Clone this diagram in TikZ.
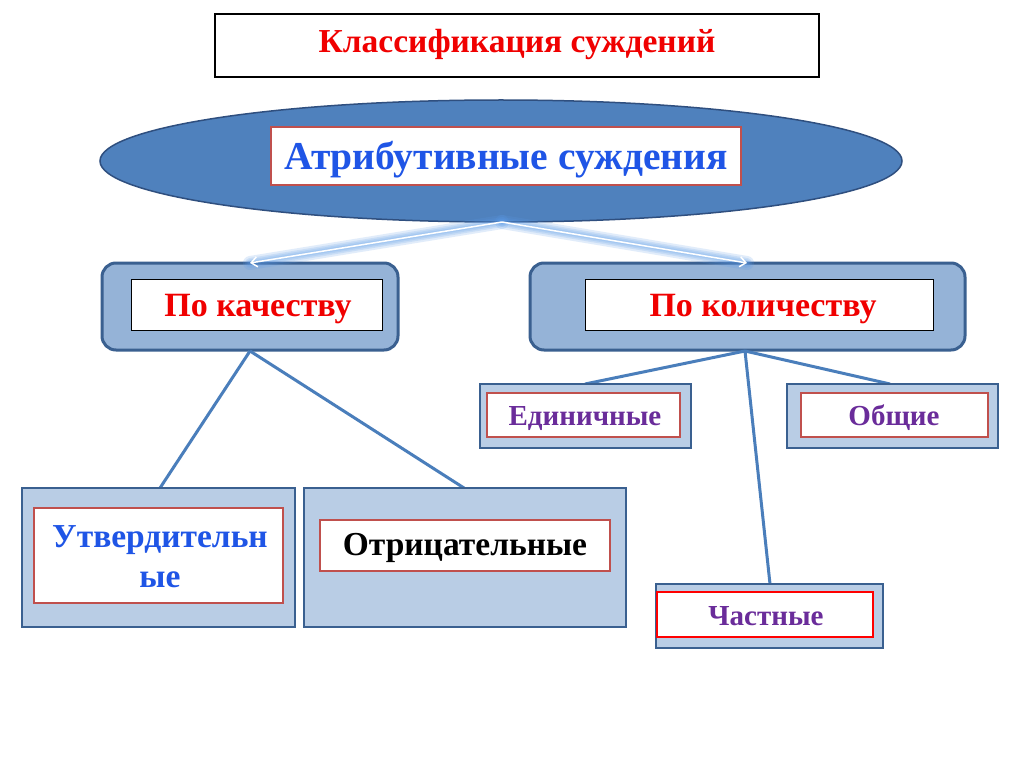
\documentclass[tikz,border=0pt]{standalone}
\usepackage{fontspec}
\setmainfont{Liberation Serif}
\usetikzlibrary{arrows.meta,shapes.geometric}
\definecolor{ellfill}{HTML}{4F81BD}
\definecolor{ellline}{HTML}{2F4F7F}
\definecolor{darkbord}{HTML}{3A6090}
\definecolor{midfill}{HTML}{95B3D7}
\definecolor{lightfill}{HTML}{B9CDE5}
\definecolor{conn}{HTML}{4A7EBB}
\definecolor{redtxt}{HTML}{F00000}
\definecolor{bluetxt}{HTML}{1F55E6}
\definecolor{purptxt}{HTML}{6A2C9A}
\definecolor{redbord}{HTML}{C0504D}
\definecolor{glowcol}{HTML}{5B9BE8}
\tikzset{
  outerround/.style={draw=darkbord, line width=3pt, fill=midfill, rounded corners=14pt},
  outerrect/.style={draw=darkbord, line width=2.5pt, fill=lightfill},
  innerblack/.style={draw=black, line width=1pt, fill=white},
  innerred/.style={draw=redbord, line width=1.2pt, fill=white},
  conline/.style={draw=conn, line width=3pt},
  txt/.style={inner sep=0pt, anchor=base},
  glow/.style={line width=#1, draw=glowcol, opacity=0.18, line cap=round},
}
\begin{document}
\begin{tikzpicture}[x=1pt,y=-1pt]
\useasboundingbox (0,0) rectangle (1024,767);
\fill[white] (0,0) rectangle (1024,767);
% title
\draw[line width=1.5pt, fill=white] (215,14) rectangle (819,77);
\node[txt, text=redtxt, font=\bfseries\fontsize{33.5}{38}\selectfont] (title) at (517,53) {Классификация суждений};
% ellipse
\node[ellipse, draw=ellline, line width=1.5pt, fill=ellfill, minimum width=802pt, minimum height=122pt, inner sep=0pt] (ell) at (501,161) {};
\draw[innerred] (271,127) rectangle (741,185);
\node[txt, text=bluetxt, font=\bfseries\fontsize{39.5}{44}\selectfont] (attr) at (506,170) {Атрибутивные суждения};
% upper boxes
\draw[outerround] (102,263) rectangle (398,350);
\draw[innerblack] (131,279) rectangle (382,330);
\node[txt, text=redtxt, font=\bfseries\fontsize{34}{38}\selectfont] (qual) at (258,316) {По качеству};
\draw[outerround] (530,263) rectangle (965,350);
\draw[innerblack] (585,279) rectangle (933,330);
\node[txt, text=redtxt, font=\bfseries\fontsize{34}{38}\selectfont] (quant) at (763,316) {По количеству};
\coordinate (ellb) at (502,222);
\coordinate (qualt) at (250,263);
\coordinate (quantt) at (747,263);
\coordinate (qualb) at (250,351);
\coordinate (quantb) at (745,351);
% glow arrows
\foreach \w in {14pt,10pt,7pt,4pt}{
  \draw[glow=\w] (ellb) -- (qualt);
  \draw[glow=\w] (ellb) -- (quantt);
}
\draw[white, line width=1.5pt, -{Straight Barb[length=6pt,width=10pt]}] (ellb) -- (qualt);
\draw[white, line width=1.5pt, -{Straight Barb[length=6pt,width=10pt]}] (ellb) -- (quantt);
% bottom-level coordinates
\coordinate (affT) at (160,488);
\coordinate (negT) at (464,488);
\coordinate (edT) at (585,384);
\coordinate (obT) at (890,384);
\coordinate (chT) at (770,584);
\draw[conline] (qualb) -- (affT);
\draw[conline] (qualb) -- (negT);
\draw[conline] (quantb) -- (edT);
\draw[conline] (quantb) -- (obT);
\draw[conline] (quantb) -- (chT);
% Единичные
\draw[outerrect] (480,384) rectangle (691,448);
\draw[innerred] (487,393) rectangle (680,437);
\node[txt, text=purptxt, font=\bfseries\fontsize{29}{33}\selectfont] (ed) at (585,425) {Единичные};
% Общие
\draw[outerrect] (787,384) rectangle (998,448);
\draw[innerred] (801,393) rectangle (988,437);
\node[txt, text=purptxt, font=\bfseries\fontsize{29}{33}\selectfont] (ob) at (894,425) {Общие};
% Утвердительные
\draw[outerrect] (22,488) rectangle (295,627);
\draw[innerred] (34,508) rectangle (283,603);
\node[inner sep=0pt, text=bluetxt, align=center, font=\bfseries\fontsize{33.5}{40}\selectfont, anchor=north] (aff) at (160,525) {Утвердительн\\ые};
% Отрицательные
\draw[outerrect] (304,488) rectangle (626,627);
\draw[innerred] (320,520) rectangle (610,571);
\node[txt, text=black, font=\bfseries\fontsize{33.5}{38}\selectfont] (neg) at (465,555) {Отрицательные};
% Частные
\draw[outerrect] (656,584) rectangle (883,648);
\draw[innerred, draw=red] (657,592) rectangle (873,637);
\node[txt, text=purptxt, font=\bfseries\fontsize{29}{33}\selectfont] (ch) at (766,625) {Частные};
\end{tikzpicture}
\end{document}
